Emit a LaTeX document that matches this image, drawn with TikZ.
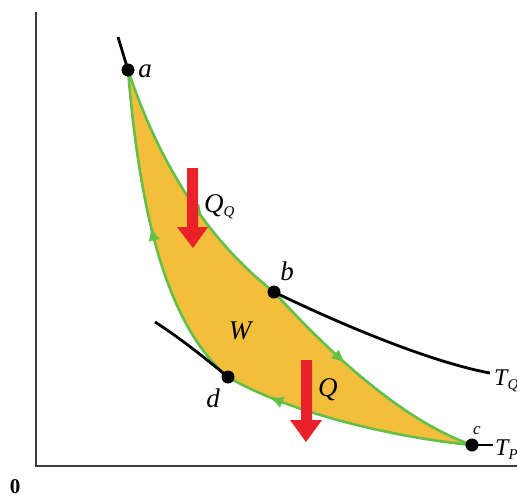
\documentclass[tikz,border=0pt]{standalone}
\usepackage{fontspec}
\setmainfont{Liberation Serif}
\usetikzlibrary{arrows.meta,decorations.markings}
\definecolor{cyfill}{RGB}{242,190,60}
\definecolor{cygreen}{RGB}{98,192,72}
\definecolor{cyred}{RGB}{232,34,40}
\definecolor{cyaxis}{RGB}{60,60,60}
\tikzset{
  leg/.style={cygreen, line width=2.6pt, postaction={decorate},
    decoration={markings, mark=at position #1 with {\arrow{Latex[length=14pt,width=12pt]}}}},
  iso/.style={black, line width=2.8pt},
  dot/.style={circle, fill=black, inner sep=0pt, minimum size=13pt},
  lbl/.style={font=\fontsize{27}{27}\selectfont\itshape, inner sep=0pt},
  slbl/.style={font=\fontsize{17}{17}\selectfont\itshape, inner sep=0pt},
  redarrow/.style={fill=cyred, draw=none}
}
\newcommand{\cysub}[1]{\textsubscript{\fontsize{15}{15}\selectfont\itshape #1}}
\begin{document}
\begin{tikzpicture}[x=1pt,y=-1pt]
\useasboundingbox (0,0) rectangle (517,498);
% axes
\coordinate (top) at (36,12);
\coordinate (org) at (36,466);
\coordinate (right) at (517,466);
\draw[cyaxis, line width=2pt] (top) -- (org) -- (right);
\node[font=\fontsize{21}{21}\selectfont\bfseries] (zero) at (15,487) {0};
% points
\coordinate (a) at (128,70);
\coordinate (b) at (274,292);
\coordinate (c) at (472,445);
\coordinate (d) at (228,377);
% fill
\fill[cyfill] (a) .. controls (158,160) and (205,238) .. (b)
  .. controls (318,340) and (395,418) .. (c)
  .. controls (380,436) and (280,408) .. (d)
  .. controls (160,320) and (138,190) .. (a) -- cycle;
% legs
\draw[leg=0.62] (a) .. controls (158,160) and (205,238) .. (b);
\draw[leg=0.4] (b) .. controls (318,340) and (395,418) .. (c);
\draw[leg=0.82] (c) .. controls (380,436) and (280,408) .. (d);
\draw[leg=0.52] (d) .. controls (160,320) and (138,190) .. (a);
% isotherm extensions
\coordinate (aq) at (118,37);
\coordinate (tq) at (490,373);
\coordinate (dp) at (155,322);
\coordinate (tp) at (493,445);
\draw[iso] (aq) -- (a);
\draw[iso] (b) .. controls (340,324) and (430,362) .. (tq);
\draw[iso] (dp) .. controls (180,338) and (205,358) .. (d);
\draw[iso] (c) -- (tp);
% dots
\node[dot] (na) at (a) {};
\node[dot] (nb) at (b) {};
\node[dot] (nc) at (c) {};
\node[dot] (nd) at (d) {};
% red arrows
\fill[redarrow] (187,168) -- (198,168) -- (198,227) -- (208,227) -- (193,248) -- (177,227) -- (187,227) -- cycle;
\fill[redarrow] (301,360) -- (312,360) -- (312,420) -- (322,420) -- (306,442) -- (290,420) -- (301,420) -- cycle;
% labels
\node[lbl] (la) at (145,71) {a};
\node[lbl] (lb) at (287,271) {b};
\node[slbl] (lc) at (477,431) {c};
\node[lbl] (ld) at (213,398) {d};
\node[lbl] (lw) at (240,331) {W};
\node[lbl, anchor=west] (lqq) at (204,207) {Q\cysub{Q}};
\node[lbl, anchor=west] (lq) at (318,390) {Q};
\node[lbl, anchor=west, font=\fontsize{24}{24}\selectfont\itshape] (ltq) at (494,381) {T\cysub{Q}};
\node[lbl, anchor=west, font=\fontsize{24}{24}\selectfont\itshape] (ltp) at (495,450) {T\cysub{P}};
\end{tikzpicture}
\end{document}
